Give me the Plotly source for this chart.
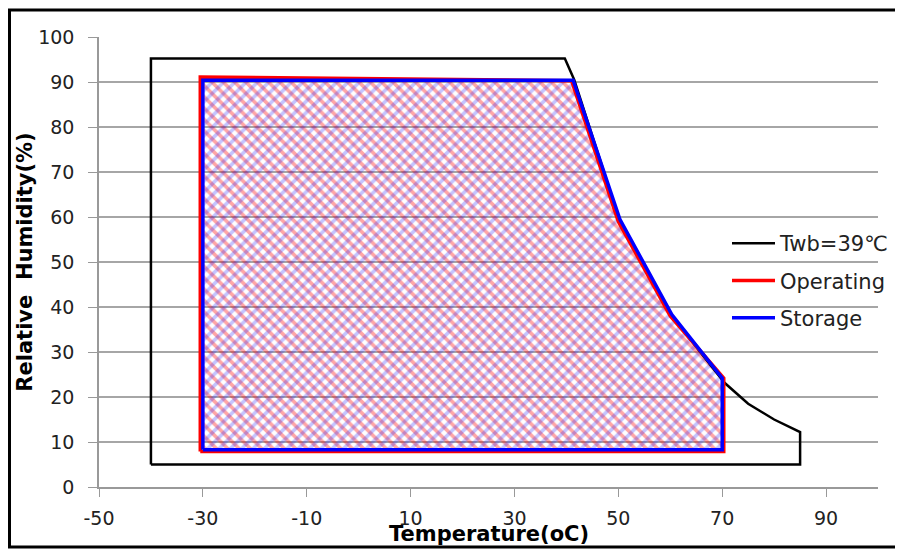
import plotly.graph_objects as go

# Data
twb_x = [-40, -40, 39.7, 41.5, 50.3, 60.3, 70.5, 75, 80, 85, 85, -40]
twb_y = [5, 95.2, 95.2, 90.5, 59, 38, 23.1, 18.5, 15, 12.2, 5, 5]

op_x = [-30.5, -30.5, 41, 50, 60, 70.3, 70.3, -30.5]
op_y = [7.9, 91.1, 90.3, 59, 38, 24.2, 7.9, 7.9]

st_x = [-30, -30, 41.3, 50.3, 60.3, 70.0, 70.0, -30]
st_y = [8.3, 90.4, 90.4, 59.5, 38.3, 24.2, 8.3, 8.3]

x_ticks = [-50, -30, -10, 10, 30, 50, 70, 90]
x_tick_labels = ["-50", "-30", "-10", "10", "30", "50", "70", "90"]
y_ticks = [0, 10, 20, 30, 40, 50, 60, 70, 80, 90, 100]
y_tick_labels = ["0", "10", "20", "30", "40", "50", "60", "70", "80", "90", "100"]

FONT = "DejaVu Sans"
OFF = 8                      # page body margin in the browser
W, H = 895, 550 - OFF
PL, PR, PT, PB = 99, 878, 37, 487   # plot area in screen pixels
L, T = PL - OFF, PT - OFF
PW, PH = PR - PL, PB - PT
R, B = W - L - PW, H - T - PH


def px(sx):
    return (sx - PL) / PW


def py(sy):
    return (PB - sy) / PH


fig = go.Figure()

# hatched fills (no legend)
fig.add_trace(go.Scatter(
    x=op_x, y=op_y, mode="none", showlegend=False, hoverinfo="skip",
    fill="toself", fillcolor="rgba(0,0,0,0)",
    fillpattern=dict(shape="\\", fgcolor="rgba(255,0,0,0.7)", bgcolor="rgba(255,255,255,0)",
                     size=8, solidity=0.45),
))
fig.add_trace(go.Scatter(
    x=st_x, y=st_y, mode="none", showlegend=False, hoverinfo="skip",
    fill="toself", fillcolor="rgba(0,0,0,0)",
    fillpattern=dict(shape="/", fgcolor="rgba(40,40,255,0.55)", bgcolor="rgba(255,255,255,0)",
                     size=8, solidity=0.45),
))

# outlines
fig.add_trace(go.Scatter(
    x=twb_x, y=twb_y, mode="lines", name="Twb=39℃",
    line=dict(color="black", width=2.5), legendgroup="a",
))
fig.add_trace(go.Scatter(
    x=op_x, y=op_y, mode="lines", name="Operating",
    line=dict(color="#ff0000", width=3.5), legendgroup="b",
))
fig.add_trace(go.Scatter(
    x=st_x, y=st_y, mode="lines", name="Storage",
    line=dict(color="#0000ff", width=3.5), legendgroup="c",
))

# outer frame: left, top, bottom edges (right edge lies beyond the view)
frame = dict(color="black", width=3)
fig.add_shape(type="line", xref="paper", yref="paper",
              x0=px(9.5), x1=px(9.5), y0=py(547), y1=py(10), line=frame, layer="above")
fig.add_shape(type="line", xref="paper", yref="paper",
              x0=px(8), x1=px(902), y0=py(10), y1=py(10), line=frame, layer="above")
fig.add_shape(type="line", xref="paper", yref="paper",
              x0=px(8), x1=px(902), y0=py(547), y1=py(547), line=frame, layer="above")

fig.add_annotation(text="<b>Temperature(oC)</b>", xref="paper", yref="paper",
                   x=0.5, y=py(534), xanchor="center", yanchor="middle", showarrow=False,
                   font=dict(family=FONT, size=21, color="black"))

fig.update_layout(
    width=W, height=H,
    margin=dict(l=L, r=R, t=T, b=B, autoexpand=False),
    paper_bgcolor="white", plot_bgcolor="white",
    font=dict(family=FONT, size=19, color="#222222"),
    showlegend=True,
    legend=dict(x=px(727), y=py(223), xanchor="left", yanchor="top",
                bgcolor="rgba(0,0,0,0)", tracegroupgap=7, traceorder="grouped",
                itemwidth=43,
                font=dict(family=FONT, size=21, color="#222222")),
    xaxis=dict(range=[-50, 100], tickvals=x_ticks, ticktext=x_tick_labels,
               ticks="outside", ticklen=8,
               tickcolor="#999999", showline=True, linecolor="#999999", linewidth=1.5,
               showgrid=False, zeroline=False, ticklabelstandoff=5,
               tickfont=dict(family=FONT, size=19, color="#222222")),
    yaxis=dict(range=[0, 100], tickvals=y_ticks, ticktext=y_tick_labels,
               ticks="outside", ticklen=9,
               tickcolor="#999999", showline=True, linecolor="#999999", linewidth=1.5,
               showgrid=True, gridcolor="#a6a6a6", gridwidth=1.5, zeroline=False,
               ticklabelstandoff=10,
               tickfont=dict(family=FONT, size=19, color="#222222"),
               title=dict(text="<b>Relative  Humidity(%)</b>", standoff=0,
                          font=dict(family=FONT, size=21, color="black"))),
)

fig.write_html("out.html")
